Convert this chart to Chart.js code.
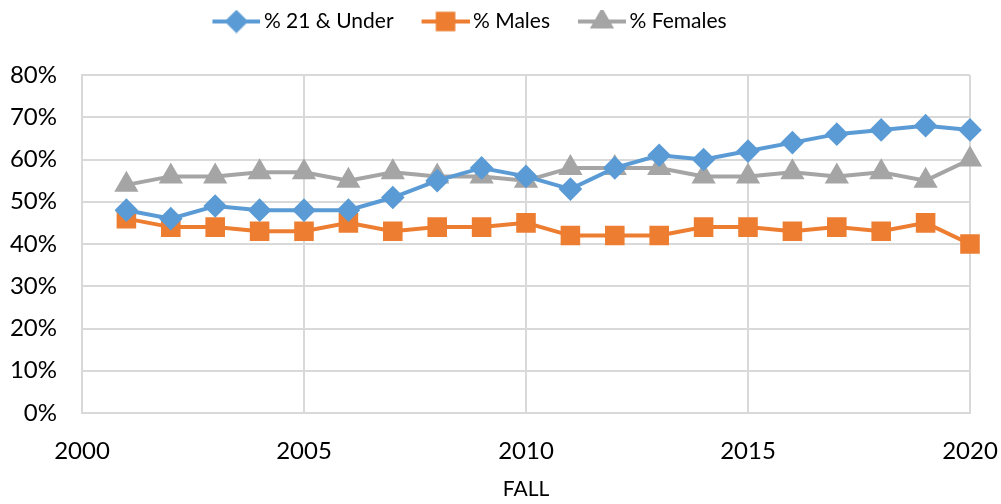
<!DOCTYPE html>
<html>
<head>
<meta charset="utf-8">
<script src="https://cdn.jsdelivr.net/npm/chart.js@4"></script>
<style>
	body { margin: 0; background: #fff; }
	#wrap { width: 1001px; height: 504px; }
</style>
</head>
<body>
<div id="wrap"><canvas id="mycanvas" width="1001" height="504"></canvas></div>
<script>
var years = [2001, 2002, 2003, 2004, 2005, 2006, 2007, 2008, 2009, 2010,
	2011, 2012, 2013, 2014, 2015, 2016, 2017, 2018, 2019, 2020];
var under21 = [48, 46, 49, 48, 48, 48, 51, 55, 58, 56, 53, 58, 61, 60, 62, 64, 66, 67, 68, 67];
var males = [46, 44, 44, 43, 43, 45, 43, 44, 44, 45, 42, 42, 42, 44, 44, 43, 44, 43, 45, 40];
var females = [54, 56, 56, 57, 57, 55, 57, 56, 56, 55, 58, 58, 58, 56, 56, 57, 56, 57, 55, 60];
var seriesNames = ['% 21 & Under', '% Males', '% Females'];
var xTicks = [2000, 2005, 2010, 2015, 2020];

var font = "Lato";
var grid = '#d9d9d9';

function points(vals) {
	var out = [];
	for (var i in vals) {
		out.push({x: years[i], y: vals[i]});
	}
	return out;
}

// legend swatch: line with the marker on it
function swatch(color, style, radius) {
	var c = document.createElement('canvas');
	c.width = 72;
	c.height = 24;
	var g = c.getContext('2d');
	g.strokeStyle = color;
	g.lineWidth = 4;
	g.beginPath();
	g.moveTo(24, 12);
	g.lineTo(72, 12);
	g.stroke();
	g.fillStyle = color;
	Chart.helpers.drawPoint(g, {pointStyle: style, radius: radius, borderWidth: 1}, 48, 12);
	g.fill();
	return c;
}

function makeSet(label, vals, color, style, radius) {
	return {
		label: label,
		data: points(vals),
		borderColor: color,
		backgroundColor: color,
		borderWidth: 4,
		pointStyle: style,
		pointRadius: radius,
		pointHoverRadius: radius,
		pointBackgroundColor: color,
		pointBorderColor: color,
		clip: false,
		swatch: swatch(color, style, radius)
	};
}

// taller legend box, and nudge it left like the original
var legendGap = {
	id: 'legendGap',
	beforeUpdate: function(chart) {
		var lg = chart.legend;
		if (lg && !lg._gapDone) {
			var fit = lg.fit;
			lg.fit = function() {
				fit.call(this);
				this.height = 75;
			};
			lg._gapDone = true;
		}
	},
	afterLayout: function(chart) {
		chart.legend.left -= 24;
		chart.legend.right -= 24;
	}
};

var ctx = document.getElementById('mycanvas');

var lineGraph = new Chart(ctx, {
	type: 'line',
	data: {
		datasets: [
			makeSet(seriesNames[0], under21, '#5b9bd5', 'rectRot', 9),
			makeSet(seriesNames[1], males, '#ed7d31', 'rect', 11),
			makeSet(seriesNames[2], females, '#a5a5a5', 'triangle', 10)
		]
	},
	plugins: [legendGap],
	options: {
		responsive: false,
		animation: false,
		layout: { padding: { left: 0, right: 31, top: 0, bottom: 0 } },
		plugins: {
			tooltip: { enabled: false },
			legend: {
				position: 'top',
				labels: {
					font: { family: font, size: 21 },
					color: '#000',
					usePointStyle: true,
					pointStyleWidth: 58,
					boxHeight: 20,
					padding: 11,
					generateLabels: function(chart) {
						var items = Chart.defaults.plugins.legend.labels.generateLabels(chart);
						items.forEach(function(it) {
							it.pointStyle = chart.data.datasets[it.datasetIndex].swatch;
						});
						return items;
					}
				}
			}
		},
		scales: {
			x: {
				type: 'linear',
				min: 2000,
				max: 2020,
				afterBuildTicks: function(scale) {
					scale.ticks = xTicks.map(function(v) { return {value: v}; });
				},
				afterFit: function(scale) {
					scale.height = 91;
					scale.paddingLeft = 0;
					scale.paddingRight = 0;
				},
				grid: { color: grid, lineWidth: 2, drawTicks: false },
				border: { color: grid, width: 2 },
				ticks: {
					font: { family: font, size: 24 },
					color: '#000',
					padding: 24,
					maxRotation: 0,
					callback: function(v) { return String(v); }
				},
				title: {
					display: true,
					text: 'FALL',
					font: { family: font, size: 21 },
					color: '#000',
					padding: { top: 4, bottom: 2 }
				}
			},
			y: {
				min: 0,
				max: 80,
				afterFit: function(scale) { scale.width = 82; },
				grid: { color: grid, lineWidth: 2, drawTicks: false },
				border: { color: grid, width: 2 },
				ticks: {
					stepSize: 10,
					font: { family: font, size: 24 },
					color: '#000',
					padding: 25,
					callback: function(v) { return v + '%'; }
				}
			}
		}
	}
});
</script>
</body>
</html>
